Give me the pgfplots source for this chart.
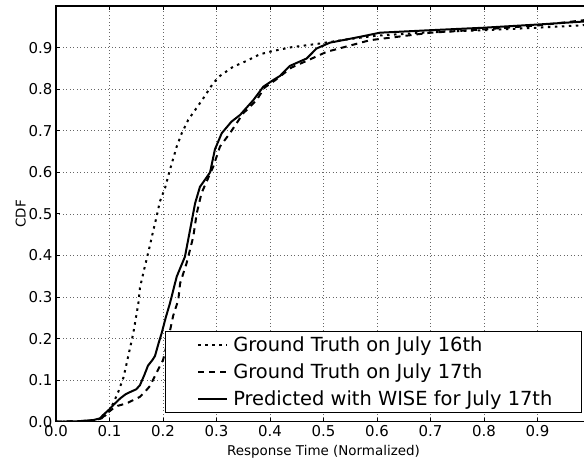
\documentclass[border=0pt]{standalone}
\usepackage{pgfplots}
\pgfplotsset{compat=1.18}
\usepackage{fontspec}
\setmainfont{DejaVu Sans}

\begin{document}
\begin{tikzpicture}
\begin{axis}[
  name=ax, at={(0,0)}, anchor=south west,
  scale only axis, width=535bp, height=415.6bp,
  xmin=0, xmax=1, ymin=0, ymax=1,
  xtick={0,0.1,0.2,0.3,0.4,0.5,0.6,0.7,0.8,0.9},
  ytick={0,0.1,0.2,0.3,0.4,0.5,0.6,0.7,0.8,0.9},
  /pgf/number format/assume math mode=true,
  /pgf/number format/.cd, fixed, fixed zerofill, precision=1, /pgfplots/.cd,
  tick label style={font=\fontsize{15}{18}\selectfont},
  label style={font=\fontsize{13.5}{16}\selectfont},
  xlabel={Response Time (Normalized)},
  ylabel={CDF},
  xlabel style={yshift=-2bp},
  ylabel style={yshift=-4bp},
  grid=major,
  major grid style={black!60, line width=0.6bp, dash pattern=on 1bp off 2.5bp},
  tick align=inside, tick pos=both,
  major tick length=4bp,
  tick style={black, line width=0.8bp},
  axis line style={line width=1.5bp},
  legend cell align=left,
  legend style={at={(1,0)}, anchor=south east, xshift=-9bp, yshift=9bp,
    font=\fontsize{19.5}{23}\selectfont, draw=black, line width=1.2bp,
    inner xsep=24bp, inner ysep=0bp, row sep=0bp,
    nodes={inner xsep=5bp, inner ysep=2.5bp, text height=17.5bp, text depth=4.5bp}},
  legend image code/.code={\path (0bp,0bp); \draw[#1] (8bp,0bp) -- (37bp,0bp);},
]
% Ground truth July 16
\addplot[black, line width=2bp, dash pattern=on 2.5bp off 4.5bp] coordinates {
(0,0) (0.04,0.001) (0.07,0.003) (0.085,0.008) (0.093,0.016) (0.098,0.024)
(0.107,0.044) (0.1165,0.072) (0.126,0.106) (0.132,0.140) (0.1445,0.213)
(0.154,0.285) (0.157,0.323) (0.166,0.373) (0.1757,0.425) (0.182,0.461)
(0.188,0.493) (0.194,0.529) (0.2037,0.562) (0.213,0.606) (0.2256,0.662)
(0.235,0.694) (0.247,0.726) (0.2753,0.778) (0.294,0.815) (0.3065,0.832)
(0.331,0.854) (0.356,0.868) (0.381,0.884) (0.406,0.892) (0.44,0.901)
(0.4935,0.910) (0.55,0.921) (0.60,0.929) (0.70,0.937) (0.80,0.942)
(0.90,0.948) (1.0,0.955)
};
\addlegendentry{Ground Truth on July 16th}
% Ground truth July 17
\addplot[black, line width=2bp, dash pattern=on 6bp off 5bp] coordinates {
(0,0) (0.04,0.001) (0.07,0.003) (0.085,0.008) (0.095,0.02) (0.107,0.032)
(0.115,0.038) (0.126,0.042) (0.135,0.046) (0.1477,0.054) (0.157,0.06)
(0.165,0.07) (0.1757,0.086) (0.188,0.118) (0.2,0.148) (0.21,0.2)
(0.219,0.255) (0.2286,0.293) (0.232,0.333) (0.244,0.381) (0.2566,0.445)
(0.263,0.501) (0.272,0.55) (0.294,0.614) (0.3065,0.662) (0.325,0.694)
(0.35,0.742) (0.375,0.774) (0.39,0.804) (0.41,0.822) (0.44,0.852)
(0.475,0.872) (0.506,0.89) (0.587,0.918) (0.70,0.936) (0.80,0.944)
(0.905,0.954) (1.0,0.968)
};
\addlegendentry{Ground Truth on July 17th}
% Predicted with WISE
\addplot[black, line width=2bp] coordinates {
(0,0) (0.04,0.001) (0.07,0.004) (0.082,0.008) (0.088,0.016) (0.1,0.03)
(0.107,0.040) (0.12,0.056) (0.13,0.066) (0.138,0.071) (0.15,0.078)
(0.157,0.088) (0.165,0.112) (0.172,0.135) (0.18,0.148) (0.185,0.158)
(0.192,0.19) (0.1975,0.213) (0.205,0.25) (0.213,0.285) (0.2256,0.349)
(0.241,0.397) (0.2505,0.461) (0.26,0.5255) (0.269,0.565) (0.28,0.585)
(0.288,0.6) (0.297,0.655) (0.3097,0.694) (0.328,0.722) (0.344,0.738)
(0.369,0.774) (0.3875,0.806) (0.406,0.822) (0.4187,0.832) (0.437,0.856)
(0.4686,0.874) (0.487,0.898) (0.512,0.912) (0.568,0.926) (0.6056,0.936)
(0.70,0.942) (0.80,0.948) (0.905,0.956) (1.0,0.964)
};
\addlegendentry{Predicted with WISE for July 17th}
\end{axis}
\pgfresetboundingbox
\path[use as bounding box] (ax.south west) ++(-56bp,-42.3bp) rectangle ++(584bp,464bp);
\end{tikzpicture}
\end{document}
